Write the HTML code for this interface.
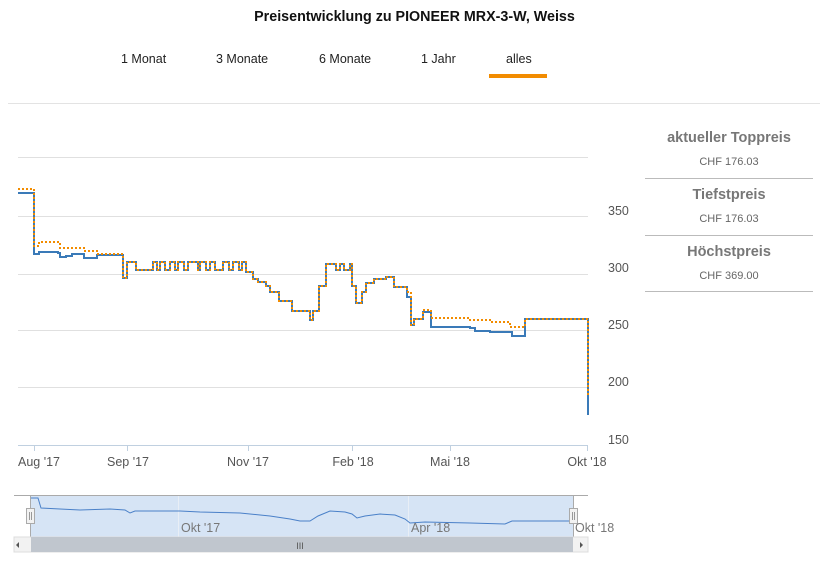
<!DOCTYPE html>
<html><head><meta charset="utf-8"><style>
body{margin:0;background:#fff;font-family:"Liberation Sans","DejaVu Sans",sans-serif;}
.wrap{position:relative;width:825px;height:567px;overflow:hidden}
.t{position:absolute;white-space:nowrap}
</style></head><body><div class="wrap">
<div class="t" style="left:0;width:829px;top:9px;text-align:center;font-weight:bold;font-size:14.3px;color:#111">Preisentwicklung zu PIONEER MRX-3-W, Weiss</div>
<div class="t" style="left:121px;top:52px;font-size:12.5px;color:#222">1 Monat</div>
<div class="t" style="left:216px;top:52px;font-size:12.5px;color:#222">3 Monate</div>
<div class="t" style="left:319px;top:52px;font-size:12.5px;color:#222">6 Monate</div>
<div class="t" style="left:421px;top:52px;font-size:12.5px;color:#222">1 Jahr</div>
<div class="t" style="left:506px;top:52px;font-size:12.5px;color:#222">alles</div>
<div style="position:absolute;left:489px;top:74px;width:58px;height:4px;background:#f28c00"></div>
<div style="position:absolute;left:8px;top:103px;width:812px;height:1px;background:#e3e3e3"></div>

<div class="t" style="left:645px;width:168px;top:130px;text-align:center;font-weight:bold;font-size:14.5px;color:#777">aktueller Toppreis</div>
<div class="t" style="left:645px;width:168px;top:156px;text-align:center;font-size:11px;color:#666">CHF 176.03</div>
<div style="position:absolute;left:645px;top:178px;width:168px;height:1px;background:#bbb"></div>
<div class="t" style="left:645px;width:168px;top:187px;text-align:center;font-weight:bold;font-size:14.5px;color:#777">Tiefstpreis</div>
<div class="t" style="left:645px;width:168px;top:213px;text-align:center;font-size:11px;color:#666">CHF 176.03</div>
<div style="position:absolute;left:645px;top:235px;width:168px;height:1px;background:#bbb"></div>
<div class="t" style="left:645px;width:168px;top:244px;text-align:center;font-weight:bold;font-size:14.5px;color:#777">Höchstpreis</div>
<div class="t" style="left:645px;width:168px;top:270px;text-align:center;font-size:11px;color:#666">CHF 369.00</div>
<div style="position:absolute;left:645px;top:291px;width:168px;height:1px;background:#bbb"></div>

<svg width="825" height="567" style="position:absolute;left:0;top:0" font-family="Liberation Sans, DejaVu Sans, sans-serif">
<g stroke="#e0e0e0" stroke-width="1">
<line x1="18" x2="588" y1="157.5" y2="157.5"/><line x1="18" x2="588" y1="216.5" y2="216.5"/><line x1="18" x2="588" y1="274.5" y2="274.5"/><line x1="18" x2="588" y1="330.5" y2="330.5"/><line x1="18" x2="588" y1="387.5" y2="387.5"/>
</g>
<line x1="18" x2="588" y1="445.5" y2="445.5" stroke="#c0d0e0"/>
<g stroke="#c0d0e0"><line x1="34.5" x2="34.5" y1="445" y2="451"/><line x1="127.5" x2="127.5" y1="445" y2="451"/><line x1="248.5" x2="248.5" y1="445" y2="451"/><line x1="352.5" x2="352.5" y1="445" y2="451"/><line x1="450.5" x2="450.5" y1="445" y2="451"/><line x1="587.5" x2="587.5" y1="445" y2="451"/></g>
<g font-size="12.5" fill="#555">
<text x="608" y="215">350</text><text x="608" y="272">300</text><text x="608" y="329">250</text><text x="608" y="386">200</text><text x="608" y="444">150</text>
<text x="39" y="466" text-anchor="middle">Aug '17</text><text x="128" y="466" text-anchor="middle">Sep '17</text><text x="248" y="466" text-anchor="middle">Nov '17</text><text x="353" y="466" text-anchor="middle">Feb '18</text><text x="450" y="466" text-anchor="middle">Mai '18</text><text x="587" y="466" text-anchor="middle">Okt '18</text>
</g>
<path fill="none" stroke="#3a7ab8" stroke-width="2" d="M18 193 H34 V254 H39 V252 H58 V253 H60 V257 H66 V256 H72 V254 H84 V258 H97 V255 H123 V278 H127 V262 H136 V270 H153 V262 H157 V270 H160 V262 H165 V270 H170 V262 H175 V270 H178 V262 H184 V270 H188 V262 H198 V270 H200 V262 H206 V270 H210 V262 H215 V270 H223 V262 H229 V270 H233 V262 H239 V270 H242 V262 H246 V272 H253 V279 H258 V282 H266 V286 H270 V292 H279 V301 H292 V311 H310 V320 H313 V311 H319 V286 H326 V264 H336 V270 H340 V264 H344 V270 H350 V264 H352 V286 H356 V303 H362 V292 H366 V283 H374 V279 H386 V277 H394 V287 H407 V297 H411 V325 H414 V319 H423 V312 H431 V327 H470 V328 H475 V331 H490 V332 H512 V336 H525 V319 H588 V415"/>
<path fill="none" stroke="#f28c00" stroke-width="2" stroke-dasharray="2 2" d="M18 189 H34 V246 H39 V242 H60 V248 H85 V251 H97 V254 H123 V278 H127 V262 H136 V270 H153 V262 H157 V270 H160 V262 H165 V270 H170 V262 H175 V270 H178 V262 H184 V270 H188 V262 H198 V270 H200 V262 H206 V270 H210 V262 H215 V270 H223 V262 H229 V270 H233 V262 H239 V270 H242 V262 H246 V272 H253 V279 H258 V282 H266 V286 H270 V292 H279 V301 H292 V311 H310 V320 H313 V311 H319 V286 H326 V264 H336 V270 H340 V264 H344 V270 H350 V264 H352 V286 H356 V303 H362 V292 H366 V283 H374 V279 H386 V277 H394 V287 H407 V292 H411 V325 H414 V319 H423 V310 H431 V318 H470 V320 H490 V322 H510 V327 H525 V319 H588 V395"/>

<line x1="14" x2="588" y1="495.5" y2="495.5" stroke="#aaa"/>
<rect x="31" y="496" width="542" height="41" fill="#d6e4f5"/>
<line x1="178.5" x2="178.5" y1="496" y2="537" stroke="#e8eef6"/><line x1="408.5" x2="408.5" y1="496" y2="537" stroke="#e8eef6"/>
<path fill="none" stroke="#4a80c8" stroke-width="1" d="M31 498 H38 L41 508 L60 509 L80 510 L110 509 L125 510 L130 513 L135 511 L180 511 L200 512 L240 513 L270 516 L290 519 L300 521 L310 521 L318 516 L330 511 L345 512 L352 514 L357 518 L365 516 L380 514 L395 515 L405 519 L410 523 L425 522 L470 523 L505 524 L512 521 L573 521"/>
<line x1="30.5" x2="30.5" y1="496" y2="537" stroke="#aaa"/><line x1="573.5" x2="573.5" y1="496" y2="537" stroke="#aaa"/>
<rect x="26.5" y="508.5" width="8" height="15" fill="#f2f2f2" stroke="#aaa"/><line x1="29.5" x2="29.5" y1="512" y2="520" stroke="#999"/><line x1="31.5" x2="31.5" y1="512" y2="520" stroke="#999"/>
<rect x="569.5" y="508.5" width="8" height="15" fill="#f2f2f2" stroke="#aaa"/><line x1="572.5" x2="572.5" y1="512" y2="520" stroke="#999"/><line x1="574.5" x2="574.5" y1="512" y2="520" stroke="#999"/>
<g font-size="12.5" fill="#777"><text x="181" y="532">Okt '17</text><text x="411" y="532">Apr '18</text><text x="575" y="532">Okt '18</text></g>
<rect x="14" y="537" width="574" height="15" fill="#f2f2f2" stroke="#ddd"/>
<rect x="31" y="537" width="542" height="15" fill="#c0c6ce"/>
<text x="300" y="549" font-size="9" fill="#555" text-anchor="middle">III</text>
<path d="M19 542 L19 548 L16 545Z" fill="#555"/><path d="M580 542 L580 548 L583 545Z" fill="#555"/>
</svg>
</div></body></html>
